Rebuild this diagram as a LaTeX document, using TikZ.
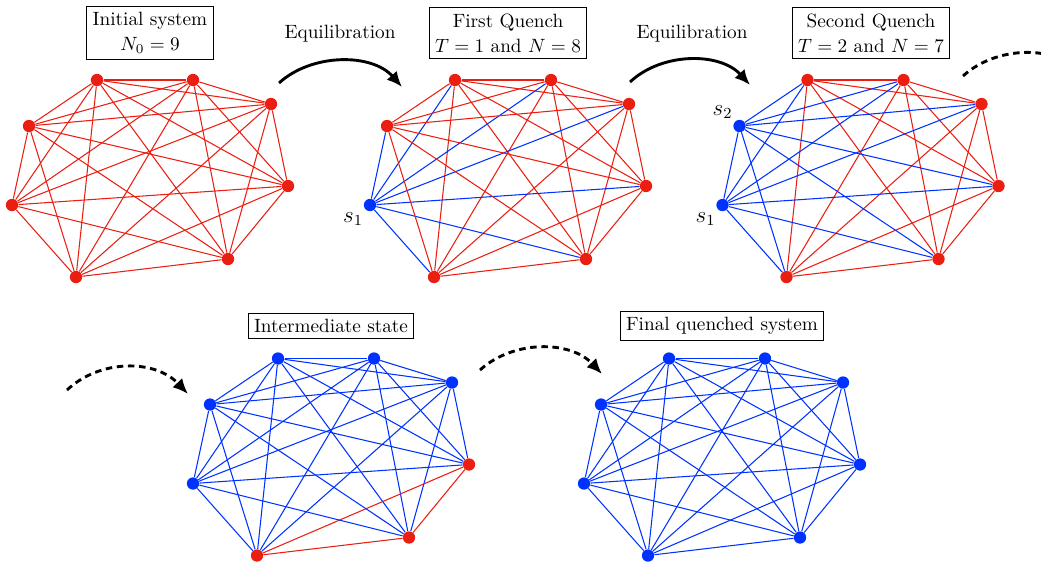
\documentclass[tikz,border=0pt]{standalone}
\usepackage{amsmath, amssymb}
\usepackage[usenames, dvipsnames]{xcolor}
\usetikzlibrary{arrows.meta}

\definecolor{qred}{RGB}{235,30,18}
\definecolor{qblue}{RGB}{0,50,255}

\tikzset{
  vtx/.style={circle, fill=#1, inner sep=0pt, minimum size=6.4pt},
  link/.style={draw=#1, line width=0.55pt},
  tag/.style={draw, line width=0.5pt, align=center, inner sep=3pt},
  seed/.style={font=\large, inner sep=1pt},
  equil/.style={line width=1.5pt, -{Latex[length=8pt, width=7pt]}},
  onward/.style={line width=1.5pt, dash pattern=on 3.4pt off 2.4pt, -{Latex[length=8pt, width=7pt]}},
}

% one graph of eight sites: name, centre, red flags of the sites
\newcommand{\qgraph}[3]{%
  \begin{scope}[shift={#2}]
    \foreach \k/\px/\py in {1/-53/-98, 2/43/-98, 3/121/-74, 4/138/8, 5/78/81, 6/-74/99, 7/-138/27, 8/-121/-52}{%
      \pgfmathtruncatemacro{\flag}{#3[\k-1]}
      \ifnum\flag=1 \def\col{qred}\else\def\col{qblue}\fi
      \node[vtx=\col] (#1\k) at (\px,\py) {};
    }
    % a bond is red only when both its ends are red
    \foreach \i in {1,...,7}{%
      \pgfmathtruncatemacro{\nxt}{\i+1}
      \foreach \j in {\nxt,...,8}{%
        \pgfmathtruncatemacro{\flag}{#3[\i-1]*#3[\j-1]}
        \ifnum\flag=1 \def\col{qred}\else\def\col{qblue}\fi
        \draw[link=\col] (#1\i) -- (#1\j);
      }
    }
  \end{scope}}

\begin{document}
\begin{tikzpicture}[x=0.52pt, y=-0.52pt]%
\useasboundingbox (0,0) rectangle (1041,568);
% the five stages
\qgraph{ini}{(150,178)}{{1,1,1,1,1,1,1,1}}
\qgraph{fq}{(508,178)}{{1,1,1,1,1,1,0,1}}
\qgraph{sq}{(860.5,178)}{{1,1,1,1,1,1,0,0}}
\qgraph{mid}{(331,456.5)}{{0,0,0,1,1,1,0,0}}
\qgraph{fin}{(722,456.5)}{{0,0,0,0,0,0,0,0}}
% boxed titles
\node[tag] (iniTag) at (150,33) {Initial system\\[1pt]$N_0=9$};
\node[tag] (fqTag) at (508,33) {First Quench\\[1pt]$T=1$ and $N=8$};
\node[tag] (sqTag) at (871,33) {Second Quench\\[1pt]$T=2$ and $N=7$};
\node[tag] (midTag) at (331,326) {Intermediate state};
\node[tag] (finTag) at (722,326) {Final quenched system};
% seeds
\node[seed] (fqS1) at ([shift={(-17,14)}]fq7) {$s_1$};
\node[seed] (sqS1) at ([shift={(-17,14)}]sq7) {$s_1$};
\node[seed] (sqS2) at ([shift={(-17,-14)}]sq8) {$s_2$};
% equilibration arrows
\node (eqA) at (340,34) {Equilibration};
\node (eqB) at (692,34) {Equilibration};
\coordinate (eqAs) at (279,83);
\coordinate (eqAe) at (402,87);
\coordinate (eqBs) at (630,82);
\coordinate (eqBe) at (750,85);
\draw[equil] (eqAs) .. controls (312,53) and (372,53) .. (eqAe);
\draw[equil] (eqBs) .. controls (662,52) and (720,52) .. (eqBe);
% further quenches
\coordinate (goA) at (963,76);
\coordinate (goAe) at (1084,78);
\coordinate (goB) at (67,390);
\coordinate (goBe) at (188,394);
\coordinate (goC) at (480,370);
\coordinate (goCe) at (602,374);
\draw[onward] (goA) .. controls (996,46) and (1052,46) .. (goAe);
\draw[onward] (goB) .. controls (100,359) and (155,359) .. (goBe);
\draw[onward] (goC) .. controls (513,340) and (570,340) .. (goCe);
\end{tikzpicture}
\end{document}
